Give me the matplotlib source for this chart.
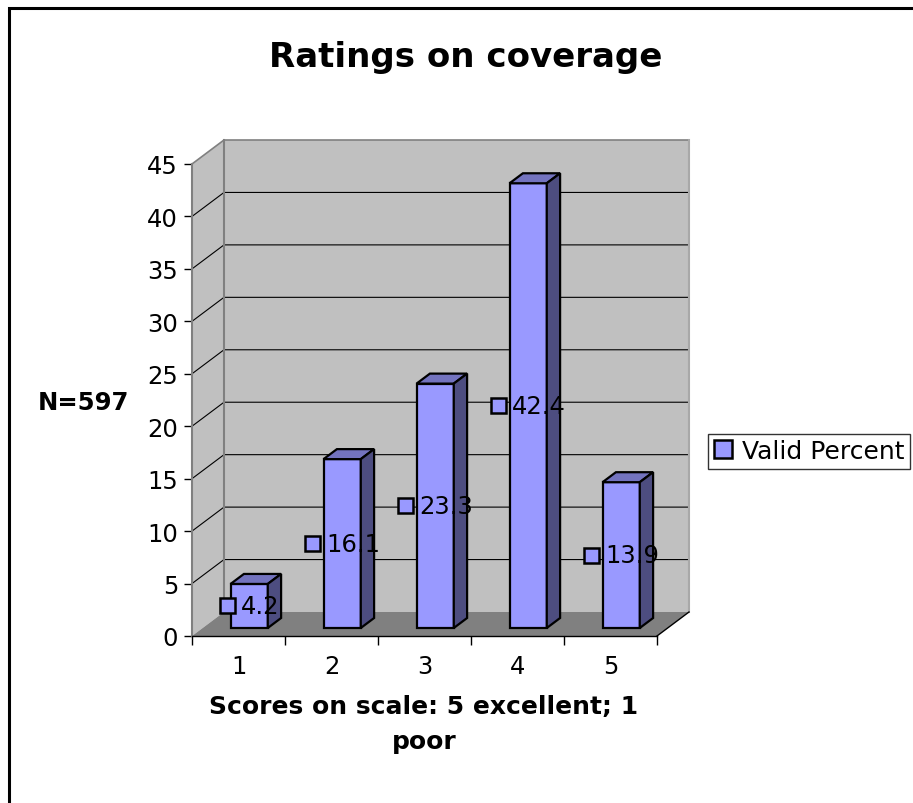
import matplotlib
matplotlib.use("Agg")
import matplotlib.pyplot as plt
from matplotlib.patches import Polygon, Rectangle, Patch
from matplotlib.offsetbox import AnnotationBbox, HPacker, DrawingArea, TextArea

# data
scores = [1, 2, 3, 4, 5]
score_labels = ["1", "2", "3", "4", "5"]
valid_percent = [4.2, 16.1, 23.3, 42.4, 13.9]
y_ticks = [0, 5, 10, 15, 20, 25, 30, 35, 40, 45]

# colours (old spreadsheet style 3d column)
front_col = "#9999ff"
top_col = "#7373bf"
side_col = "#4d4d80"
wall_col = "#c0c0c0"
floor_col = "#808080"

W, H = 913, 804
fig = plt.figure(figsize=(W / 100, H / 100), dpi=100)
fig.patch.set_facecolor("white")

# plot area (front plane) in pixels: x 192..657, y 637..165
ax = fig.add_axes([192 / W, 1 - 637 / H, 465 / W, 472 / H])
ax.set_xlim(0.5, 5.5)
ax.set_ylim(0, 45)
ax.patch.set_visible(False)

# depth offset of the back wall, in data units (32px right, 24px up)
ddx = 32 / 93.0
ddy = 24 / (472 / 45.0)
x0, x1 = 0.5, 5.5
ymax = y_ticks[-1]

# back wall
ax.add_patch(Polygon([(x0 + ddx, ddy), (x1 + ddx, ddy), (x1 + ddx, ymax + ddy), (x0 + ddx, ymax + ddy)],
                     closed=True, facecolor=wall_col, edgecolor="none", zorder=1, clip_on=False))
# side wall
ax.add_patch(Polygon([(x0, 0), (x0 + ddx, ddy), (x0 + ddx, ymax + ddy), (x0, ymax)],
                     closed=True, facecolor=wall_col, edgecolor="none", zorder=1, clip_on=False))
# floor
ax.add_patch(Polygon([(x0, 0), (x1, 0), (x1 + ddx, ddy), (x0 + ddx, ddy)],
                     closed=True, facecolor=floor_col, edgecolor="none", zorder=3, clip_on=False))

# gridlines
for v in y_ticks[1:-1]:
    ax.plot([x0, x0 + ddx, x1 + ddx], [v, v + ddy, v + ddy], color="black", lw=0.8, zorder=2, clip_on=False)

# wall edges
ax.plot([x0, x0 + ddx, x1 + ddx], [ymax, ymax + ddy, ymax + ddy], color="#808080", lw=1.2, zorder=2, clip_on=False)
ax.plot([x0 + ddx, x0 + ddx], [ddy, ymax + ddy], color="#808080", lw=1.5, zorder=2, clip_on=False)
ax.plot([x1 + ddx, x1 + ddx], [ddy, ymax + ddy], color="#a8a8a8", lw=1.5, zorder=2, clip_on=False)
ax.plot([x1, x1 + ddx], [0, ddy], color="black", lw=1.0, zorder=3, clip_on=False)

# bars
f0, f1 = 1 / 3.0, 0.75
bw = 0.40
sx, sy = (f1 - f0) * ddx, (f1 - f0) * ddy
for i, (c, v) in enumerate(zip(scores, valid_percent)):
    xl = c - bw / 2 + f0 * ddx
    yb = f0 * ddy
    z = 5 + i
    ax.add_patch(Polygon([(xl, yb), (xl + bw, yb), (xl + bw, yb + v), (xl, yb + v)],
                         closed=True, facecolor=front_col, edgecolor="black", lw=1.6, zorder=z, clip_on=False))
    ax.add_patch(Polygon([(xl, yb + v), (xl + bw, yb + v), (xl + bw + sx, yb + v + sy), (xl + sx, yb + v + sy)],
                         closed=True, facecolor=top_col, edgecolor="black", lw=1.6, zorder=z, clip_on=False))
    ax.add_patch(Polygon([(xl + bw, yb), (xl + bw + sx, yb + sy), (xl + bw + sx, yb + v + sy), (xl + bw, yb + v)],
                         closed=True, facecolor=side_col, edgecolor="black", lw=1.6, zorder=z, clip_on=False))

# value labels: marker + text centred on the bar at half height
for c, v in zip(scores, valid_percent):
    da = DrawingArea(12, 12, 0, 0)
    da.add_artist(Rectangle((0.6, 0.6), 10.8, 10.8, facecolor=front_col, edgecolor="black", lw=1.8))
    ta = TextArea(f"{v}", textprops=dict(fontsize=17.5, color="black"))
    box = HPacker(children=[da, ta], align="center", pad=0, sep=4)
    ab = AnnotationBbox(box, (c + f0 * ddx, f0 * ddy + v / 2), frameon=False,
                        box_alignment=(0.5, 0.5), pad=0, zorder=20, annotation_clip=False)
    ax.add_artist(ab)

# axes
for s in ["top", "right"]:
    ax.spines[s].set_visible(False)
ax.spines["left"].set_color("#808080")
ax.spines["left"].set_linewidth(1.5)
ax.spines["bottom"].set_color("black")
ax.spines["bottom"].set_linewidth(1.0)
ax.spines["left"].set_zorder(4)
ax.spines["bottom"].set_zorder(4)

ax.set_yticks(y_ticks)
ax.set_yticklabels([str(t) for t in y_ticks])
ax.tick_params(axis="y", length=6, width=1, color="black", pad=4, labelsize=17.5)
ax.set_xticks(scores)
ax.set_xticklabels(score_labels)
ax.set_xticks([0.5, 1.5, 2.5, 3.5, 4.5, 5.5], minor=True)
ax.tick_params(axis="x", which="major", length=0, pad=13, labelsize=17.5)
ax.tick_params(axis="x", which="minor", length=6.5, width=1, color="black")

# texts
fig.text(466 / W, 1 - 57 / H, "Ratings on coverage", ha="center", va="center",
         fontsize=24.5, fontweight="bold")
fig.text(83 / W, 1 - 403 / H, "N=597", ha="center", va="center", fontsize=17.5, fontweight="bold")
fig.text(424 / W, 1 - 695 / H, "Scores on scale: 5 excellent; 1\npoor", ha="center", va="top",
         multialignment="center", fontsize=18, fontweight="bold", linespacing=1.6)

# legend
leg = fig.legend(handles=[Patch(facecolor=front_col, edgecolor="black", lw=1.8, label="Valid Percent")],
                 loc="center left", bbox_to_anchor=(708 / W, 1 - 452 / H), frameon=True, fancybox=False,
                 edgecolor="black", handlelength=0.75, handleheight=0.75, borderpad=0.22,
                 handletextpad=0.4, borderaxespad=0, fontsize=18)
leg.get_frame().set_linewidth(1.0)

# outer chart border (runs off the right and bottom edges)
fig.patches.append(Rectangle((9 / W, -0.1), 1.5, 1.1 - 9 / H, transform=fig.transFigure,
                             facecolor="none", edgecolor="black", lw=2.2))

fig.savefig("out.png", dpi=100)
